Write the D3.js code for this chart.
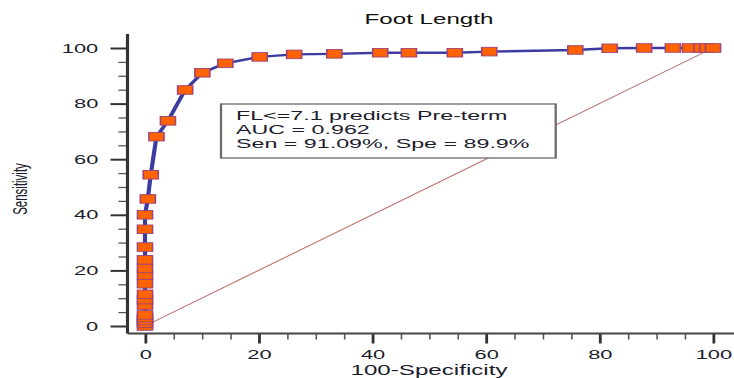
<!DOCTYPE html>
<html>
<head>
<meta charset="utf-8">
<script src="https://cdn.jsdelivr.net/npm/d3@7"></script>
<style>
  html, body { margin: 0; padding: 0; background: #fff; }
  svg { display: block; font-family: "Liberation Sans", Arial, sans-serif; }
</style>
</head>
<body>
<div id="chart"></div>
<script>
// ROC points (100-Specificity, Sensitivity)
const fpr = [0, 0, 0, 0, 0, 0, 0, 0, 0, 0, 0, 0, 0, 0, 0, 0.5,
  1.01, 2.02, 4.04, 7.07, 10.1, 14.14, 20.2, 26.26, 33.33, 41.41, 46.46,
  54.55, 60.61, 75.76, 81.82, 87.88, 92.93, 95.96, 97.98, 98.99, 100];
const tpr = [0, 0.99, 1.98, 2.97, 3.96, 7.5, 9.5, 11.4, 15.2, 18.3, 20.7, 23.8, 28.4, 34.8, 40, 45.7,
  54.4, 68.1, 73.8, 84.9, 91.09, 94.5, 96.8, 97.7, 97.9, 98.3, 98.3,
  98.3, 98.7, 99.3, 99.9, 100, 100, 100, 100, 100, 100];
const majorTicks = [0, 20, 40, 60, 80, 100];
const minorTicks = d3.range(0, 101, 5).filter(v => v % 20 !== 0);
const legendLines = ["FL<=7.1 predicts Pre-term", "AUC = 0.962", "Sen = 91.09%, Spe = 89.9%"];

const W = 734, H = 378;
const SX = 1.75; // the original picture is stretched horizontally

const svg = d3.select("#chart").append("svg")
  .attr("width", W).attr("height", H);

// everything is drawn in an unstretched frame, then stretched in x
const g = svg.append("g").attr("transform", `scale(${SX},1)`);

const x = d3.scaleLinear().domain([0, 100]).range([145 / SX, 713 / SX]);
const y = d3.scaleLinear().domain([0, 100]).range([326, 48]);

const axisX = 127.5 / SX, axisY = 333.5;

// y axis ticks
const yMajor = g.append("g").attr("transform", `translate(${axisX},0)`)
  .call(d3.axisLeft(y).tickValues(majorTicks).tickSize(9.7).tickPadding(7));
const yMinor = g.append("g").attr("transform", `translate(${axisX},0)`)
  .call(d3.axisLeft(y).tickValues(minorTicks).tickSize(5.2).tickFormat(""));

// x axis ticks
const xMajor = g.append("g").attr("transform", `translate(0,${axisY})`)
  .call(d3.axisBottom(x).tickValues(majorTicks).tickSize(10).tickPadding(6.5));
const xMinor = g.append("g").attr("transform", `translate(0,${axisY})`)
  .call(d3.axisBottom(x).tickValues(minorTicks).tickSize(6).tickFormat(""));

[yMajor, yMinor, xMajor, xMinor].forEach(a => a.select(".domain").remove());
yMajor.selectAll("line").attr("stroke", "#333").attr("stroke-width", 2);
yMinor.selectAll("line").attr("stroke", "#555").attr("stroke-width", 1.3);
xMajor.selectAll("line").attr("stroke", "#333").attr("stroke-width", 1.6);
xMinor.selectAll("line").attr("stroke", "#555").attr("stroke-width", 0.9);
[yMajor, xMajor].forEach(a => a.selectAll("text")
  .attr("fill", "#1c1c2c").style("font-size", "12.5px")
  .style("font-family", "'Liberation Sans', Arial, sans-serif"));

// axis lines
g.append("line").attr("x1", axisX).attr("x2", axisX).attr("y1", 34).attr("y2", axisY)
  .attr("stroke", "#333").attr("stroke-width", 1.8);
g.append("line").attr("x1", axisX).attr("x2", W / SX).attr("y1", axisY).attr("y2", axisY)
  .attr("stroke", "#444").attr("stroke-width", 1.8);

// diagonal reference line
g.append("line")
  .attr("x1", x(0)).attr("y1", y(0)).attr("x2", x(100)).attr("y2", y(100))
  .attr("stroke", "#c07070").attr("stroke-width", 0.9);

const pts = fpr.map((v, i) => ({ fx: v, tx: tpr[i] }));

// ROC curve
g.append("path").datum(pts)
  .attr("fill", "none")
  .attr("stroke", "#3b3ba0")
  .attr("stroke-width", 2.4)
  .attr("stroke-linejoin", "round")
  .attr("d", d3.line().x(d => x(d.fx)).y(d => y(d.tx)));

// markers
const ms = 8.6;
g.append("g").selectAll("rect").data(pts).join("rect")
  .attr("x", d => x(d.fx) - ms / 2)
  .attr("y", d => y(d.tx) - ms / 2)
  .attr("width", ms).attr("height", ms)
  .attr("fill", "#ff6200")
  .attr("stroke", "#a04478")
  .attr("stroke-width", 0.9);

// legend box
const lg = g.append("g");
lg.append("rect")
  .attr("x", 221 / SX).attr("y", 104)
  .attr("width", (555.7 - 221) / SX).attr("height", 54)
  .attr("fill", "#fff").attr("stroke", "#6a6a6a").attr("stroke-width", 1.3);
lg.selectAll("text").data(legendLines).join("text")
  .attr("x", 236 / SX)
  .attr("y", (d, i) => 120 + i * 14)
  .attr("fill", "#1c1c2c")
  .style("font-size", "13.3px")
  .text(d => d);

// title
g.append("text")
  .attr("x", x(50)).attr("y", 24)
  .attr("text-anchor", "middle")
  .attr("fill", "#111")
  .style("font-size", "13.8px")
  .text("Foot Length");

// axis labels
g.append("text")
  .attr("x", x(50)).attr("y", 375)
  .attr("text-anchor", "middle")
  .attr("fill", "#1c1c2c")
  .style("font-size", "13.8px")
  .text("100-Specificity");

g.append("text")
  .attr("transform", `translate(${27 / SX},189) rotate(-90)`)
  .attr("text-anchor", "middle")
  .attr("fill", "#1c1c2c")
  .style("font-size", "11.5px")
  .text("Sensitivity");
</script>
</body>
</html>
